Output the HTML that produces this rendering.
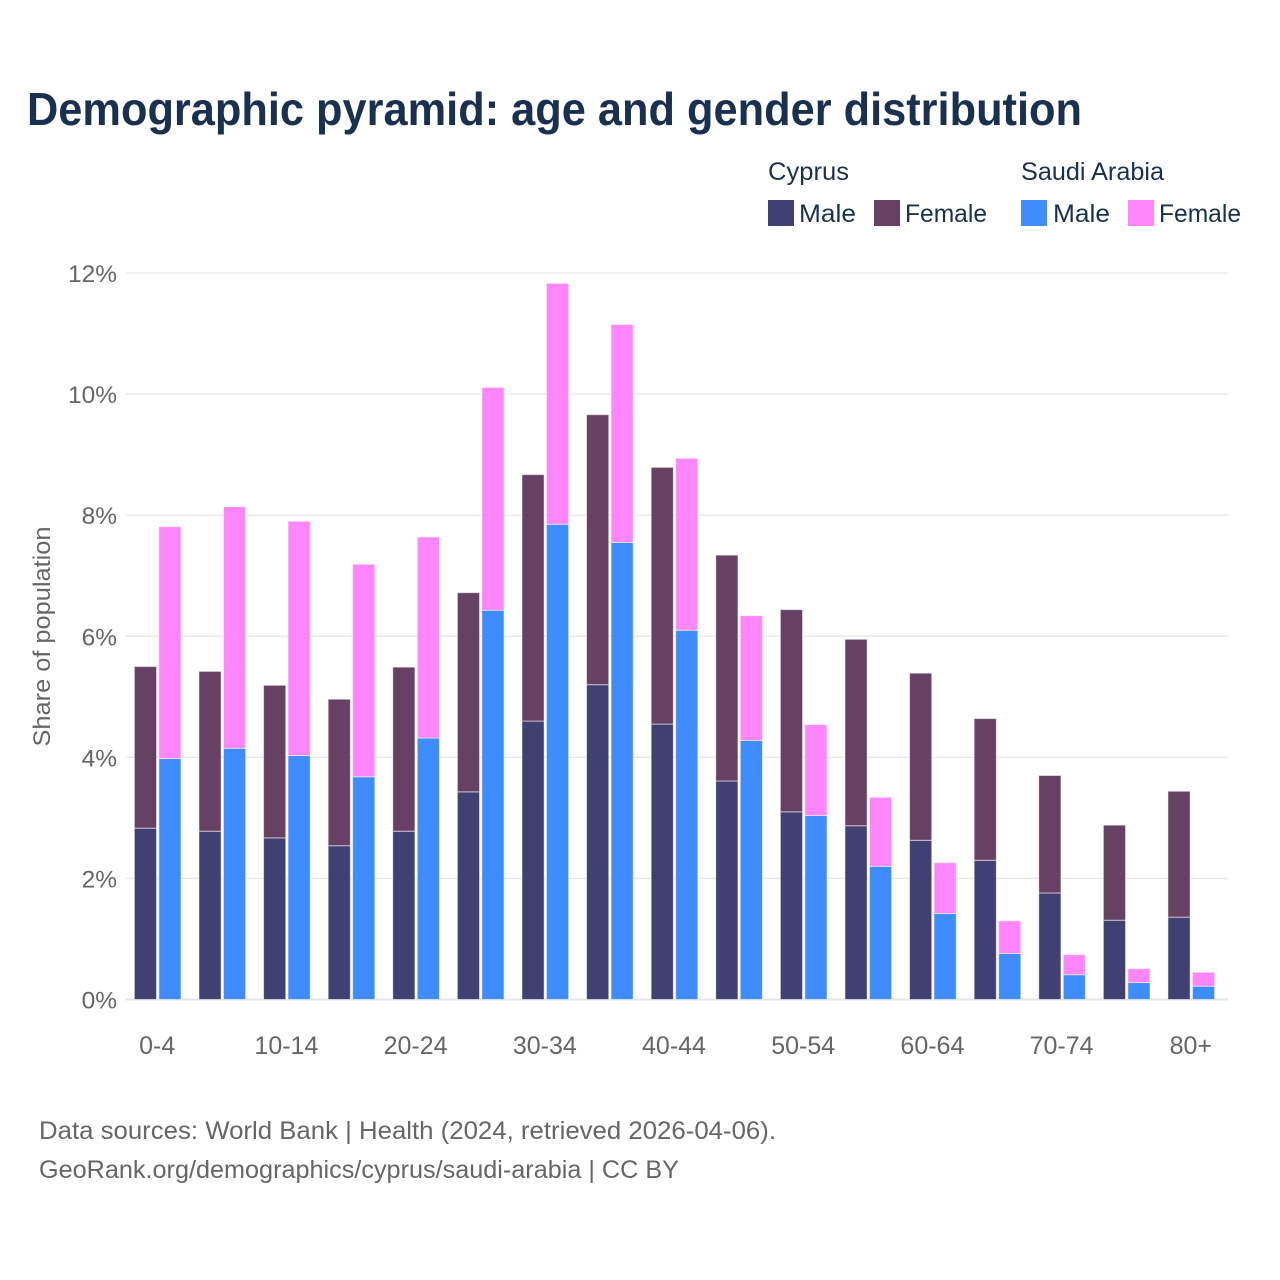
<!DOCTYPE html>
<html lang="en">
<head>
<meta charset="utf-8">
<title>Demographic pyramid: age and gender distribution</title>
<style>
html,body{margin:0;padding:0;background:#fff;}
svg{display:block;font-family:"Liberation Sans",sans-serif;}
</style>
</head>
<body>
<svg id="chart" xmlns="http://www.w3.org/2000/svg" width="1280" height="1280" viewBox="0 0 1280 1280">
  <rect width="1280" height="1280" fill="#fff"/>
  <text x="27" y="125" font-size="46" font-weight="700" fill="#1a3050" textLength="1055" lengthAdjust="spacingAndGlyphs">Demographic pyramid: age and gender distribution</text>

  <g font-size="25" fill="#1a3050">
    <text x="768" y="180" textLength="81" lengthAdjust="spacingAndGlyphs">Cyprus</text>
    <text x="1021" y="180" textLength="143" lengthAdjust="spacingAndGlyphs">Saudi Arabia</text>
    <rect x="768" y="200" width="26" height="26" fill="#423f72"/>
    <text x="799" y="222" textLength="57" lengthAdjust="spacingAndGlyphs">Male</text>
    <rect x="874" y="200" width="26" height="26" fill="#674163"/>
    <text x="905" y="222" textLength="82" lengthAdjust="spacingAndGlyphs">Female</text>
    <rect x="1021" y="200" width="26" height="26" fill="#3f8cff"/>
    <text x="1053" y="222" textLength="57" lengthAdjust="spacingAndGlyphs">Male</text>
    <rect x="1128" y="200" width="26" height="26" fill="#ff85fa"/>
    <text x="1159" y="222" textLength="82" lengthAdjust="spacingAndGlyphs">Female</text>
  </g>

  <g id="grid"></g>
  <g id="yticks"></g>
  <g id="bars"></g>
  <g id="xticks"></g>

  <text transform="translate(50,636.5) rotate(-90)" text-anchor="middle" font-size="24" fill="#666" textLength="220" lengthAdjust="spacingAndGlyphs">Share of population</text>

  <text x="39" y="1139" font-size="25" fill="#666" textLength="737" lengthAdjust="spacingAndGlyphs">Data sources: World Bank | Health (2024, retrieved 2026-04-06).</text>
  <text x="39" y="1178" font-size="25" fill="#666" textLength="640" lengthAdjust="spacingAndGlyphs">GeoRank.org/demographics/cyprus/saudi-arabia | CC BY</text>
</svg>
<script>
const ageGroups = ["0-4","5-9","10-14","15-19","20-24","25-29","30-34","35-39","40-44","45-49","50-54","55-59","60-64","65-69","70-74","75-79","80+"];
const xTickLabels = ["0-4","10-14","20-24","30-34","40-44","50-54","60-64","70-74","80+"];
const yTickValues = [0,2,4,6,8,10,12];
const cyprusMale = [2.83,2.78,2.67,2.54,2.78,3.43,4.60,5.20,4.55,3.61,3.10,2.87,2.63,2.30,1.76,1.31,1.36];
const cyprusFemale = [2.67,2.64,2.52,2.42,2.71,3.29,4.07,4.46,4.24,3.73,3.34,3.08,2.76,2.34,1.94,1.57,2.08];
const saudiMale = [3.98,4.15,4.03,3.68,4.32,6.43,7.85,7.55,6.10,4.28,3.04,2.20,1.42,0.76,0.41,0.28,0.22];
const saudiFemale = [3.83,3.99,3.87,3.51,3.32,3.68,3.98,3.60,2.84,2.06,1.50,1.14,0.84,0.54,0.33,0.23,0.23];

const NS = "http://www.w3.org/2000/svg";
const plotLeft = 125.4, plotRight = 1228, bandStep = 64.6, barWidth = 22.2, barGap = 2.3;
const yZero = 999.5, yUnit = 60.54;
const yScale = v => yZero - v * yUnit;
const bandCenter = i => plotLeft + bandStep * (i + 0.5);

function make(tag, attrs, parent) {
  const el = document.createElementNS(NS, tag);
  for (const k in attrs) el.setAttribute(k, attrs[k]);
  parent.appendChild(el);
  return el;
}

const gridG = document.getElementById("grid");
const yG = document.getElementById("yticks");
yTickValues.forEach(v => {
  const line = make("line", {x1: plotLeft, x2: plotRight, y1: yScale(v), y2: yScale(v), stroke: v === 0 ? "#e6e6e6" : "#e9e9e9", "stroke-width": v === 0 ? 2 : 1.4}, gridG);
  
  
  const label = make("text", {x: 117, y: yScale(v) + 9, "text-anchor": "end", "font-size": 24.5, fill: "#666"}, yG);
  label.textContent = v + "%";
  
  
});

const barsG = document.getElementById("bars");
function drawStack(i, left, maleValues, femaleValues, maleColor, femaleColor) {
  const male = maleValues[i], female = femaleValues[i];
  const maleBar = make("rect", {x: left, y: yScale(male), width: barWidth, height: yScale(0) - yScale(male), fill: maleColor, stroke: "rgba(255,255,255,0.55)", "stroke-width": 1}, barsG);
  
  
  const femaleBar = make("rect", {x: left, y: yScale(male + female), width: barWidth, height: yScale(male) - yScale(male + female), fill: femaleColor, stroke: "rgba(255,255,255,0.55)", "stroke-width": 1}, barsG);
  
  
}
ageGroups.forEach((g, i) => {
  const c = bandCenter(i);
  drawStack(i, c - barGap / 2 - barWidth, cyprusMale, cyprusFemale, "#423f72", "#674163");
  drawStack(i, c + barGap / 2, saudiMale, saudiFemale, "#3f8cff", "#ff85fa");
});

const xG = document.getElementById("xticks");
xTickLabels.forEach(t => {
  const label = make("text", {x: bandCenter(ageGroups.indexOf(t)) - 0.5, y: 1054, "text-anchor": "middle", "font-size": 25, fill: "#666"}, xG);
  label.textContent = t;
  
  
});
</script>
</body>
</html>
